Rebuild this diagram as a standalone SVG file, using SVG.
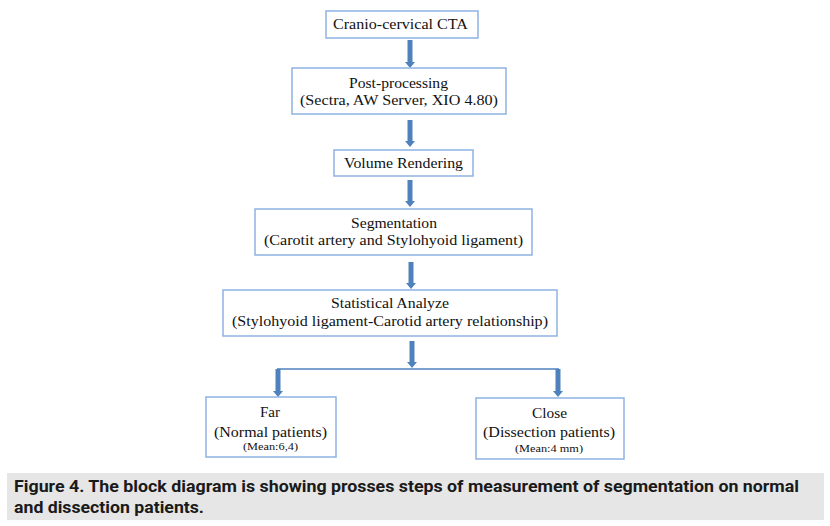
<svg xmlns="http://www.w3.org/2000/svg" width="830" height="526" viewBox="0 0 830 526">
<style>
.box{fill:#ffffff;stroke:#8db3e2;stroke-width:1.5}
.t{font-family:"Liberation Serif","Times New Roman",serif;font-size:15px;fill:#111;text-anchor:middle}
.s{font-family:"Liberation Serif","Times New Roman",serif;font-size:11px;fill:#111;text-anchor:middle}
.arr{fill:#4f81bd}
.ln{stroke:#4f81bd;stroke-width:1.5;fill:none}
.cap{font-family:Roboto,"Open Sans",sans-serif;font-weight:bold;font-size:17px;fill:#1a1a1a}
</style>
<rect width="830" height="526" fill="#ffffff"/>
<g id="connectors">
<path class="arr" d="M407.5,40 h5 V62 h2.5 L410,68 L405,62 h2.5 Z"/>
<path class="arr" d="M407.5,120 h5 V141 h2.5 L410,147 L405,141 h2.5 Z"/>
<path class="arr" d="M407.5,180 h5 V201 h2.5 L410,207 L405,201 h2.5 Z"/>
<path class="arr" d="M408.5,262 h5 V283 h2.5 L411,289 L406,283 h2.5 Z"/>
<path class="arr" d="M409.5,341 h5 V362 h2.5 L412,368 L407,362 h2.5 Z"/>
<line class="ln" x1="277" y1="369" x2="559" y2="369"/>
<path class="arr" d="M275.5,369 h5 V391 h2.5 L278,397 L273,391 h2.5 Z"/>
<path class="arr" d="M555.5,369 h5 V391 h2.5 L558,397 L553,391 h2.5 Z"/>
</g>
<g id="node-cta">
<rect class="box" x="326" y="11" width="152" height="27"/>
<text class="t" x="400.5" y="29" textLength="135" lengthAdjust="spacingAndGlyphs">Cranio-cervical  CTA</text>
</g>
<g id="node-post">
<rect class="box" x="292" y="68" width="214" height="46"/>
<text class="t" x="398.5" y="88" textLength="99" lengthAdjust="spacingAndGlyphs">Post-processing</text>
<text class="t" x="399" y="105" textLength="198" lengthAdjust="spacingAndGlyphs">(Sectra, AW Server, XIO 4.80)</text>
</g>
<g id="node-volume">
<rect class="box" x="334" y="150" width="139" height="26"/>
<text class="t" x="403.5" y="168" textLength="119" lengthAdjust="spacingAndGlyphs">Volume Rendering</text>
</g>
<g id="node-segmentation">
<rect class="box" x="255" y="209" width="277" height="46"/>
<text class="t" x="394" y="228" textLength="86" lengthAdjust="spacingAndGlyphs">Segmentation</text>
<text class="t" x="393.5" y="245" textLength="259" lengthAdjust="spacingAndGlyphs">(Carotit artery and Stylohyoid ligament)</text>
</g>
<g id="node-statistical">
<rect class="box" x="223" y="290" width="334" height="46"/>
<text class="t" x="390" y="308" textLength="118" lengthAdjust="spacingAndGlyphs">Statistical Analyze</text>
<text class="t" x="390" y="326" textLength="316" lengthAdjust="spacingAndGlyphs">(Stylohyoid ligament-Carotid artery relationship)</text>
</g>
<g id="node-far">
<rect class="box" x="206" y="397" width="130" height="60"/>
<text class="t" x="270" y="417" textLength="20" lengthAdjust="spacingAndGlyphs">Far</text>
<text class="t" x="270.5" y="437" textLength="113" lengthAdjust="spacingAndGlyphs">(Normal patients)</text>
<text class="s" x="270.5" y="450" textLength="55" lengthAdjust="spacingAndGlyphs">(Mean:6,4)</text>
</g>
<g id="node-close">
<rect class="box" x="476" y="398" width="148" height="61"/>
<text class="t" x="549.5" y="418" textLength="35" lengthAdjust="spacingAndGlyphs">Close</text>
<text class="t" x="549" y="437" textLength="132" lengthAdjust="spacingAndGlyphs">(Dissection patients)</text>
<text class="s" x="549" y="452" textLength="68" lengthAdjust="spacingAndGlyphs">(Mean:4 mm)</text>
</g>
<g id="caption">
<rect x="7" y="473" width="817" height="47" fill="#e6e6e6"/>
<text class="cap" x="14" y="492" textLength="785" lengthAdjust="spacingAndGlyphs">Figure 4. The block diagram is showing prosses steps of measurement of segmentation on normal</text>
<text class="cap" x="14" y="513" textLength="190" lengthAdjust="spacingAndGlyphs">and dissection patients.</text>
</g>
</svg>
